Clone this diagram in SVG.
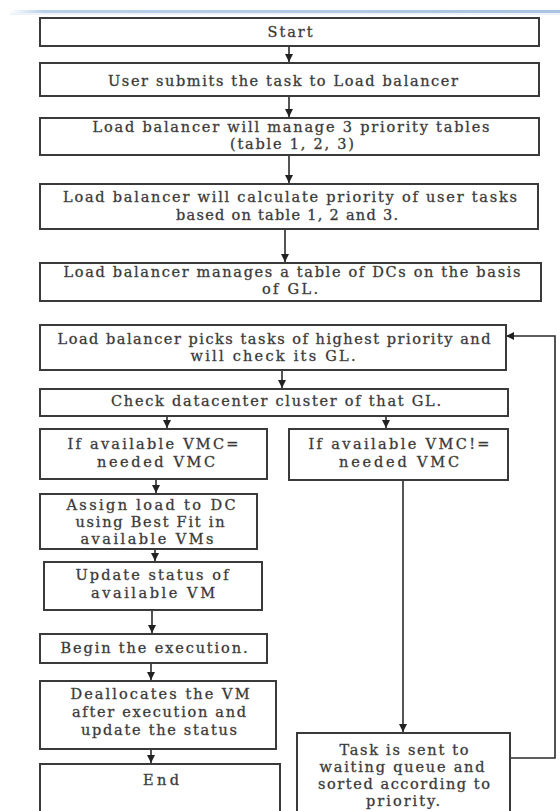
<svg xmlns="http://www.w3.org/2000/svg" width="560" height="811" viewBox="0 0 560 811">
<defs>
<linearGradient id="topline" x1="0" y1="0" x2="1" y2="0">
<stop offset="0" stop-color="#ffffff"/>
<stop offset="0.06" stop-color="#b9d0e8"/>
<stop offset="1" stop-color="#a9c3e0"/>
</linearGradient>
<marker id="ah" viewBox="0 0 10 10" refX="10" refY="5" markerWidth="8" markerHeight="8" markerUnits="userSpaceOnUse" orient="auto">
<path d="M0,0 L10,5 L0,10 z" fill="#222"/>
</marker>
<style>
.box{fill:#fff;stroke:#3a3a3a;stroke-width:2}
.t{font-family:"DejaVu Serif","Liberation Serif",serif;font-size:14.5px;fill:#2e2e2e;stroke:#555;stroke-width:0.35;text-anchor:middle}
.c{stroke:#2a2a2a;stroke-width:1.6;fill:none}
</style>
</defs>
<rect x="10" y="10" width="550" height="3" fill="url(#topline)"/>
<rect x="10" y="13" width="550" height="2" fill="#eef3f9"/>

<g id="connectors">
<line class="c" x1="289" y1="46" x2="289" y2="62" marker-end="url(#ah)"/>
<line class="c" x1="289" y1="96" x2="289" y2="117" marker-end="url(#ah)"/>
<line class="c" x1="289" y1="155" x2="289" y2="183" marker-end="url(#ah)"/>
<line class="c" x1="285" y1="229" x2="285" y2="262" marker-end="url(#ah)"/>
<line class="c" x1="282" y1="370" x2="282" y2="388" marker-end="url(#ah)"/>
<line class="c" x1="167" y1="416" x2="167" y2="428" marker-end="url(#ah)"/>
<line class="c" x1="386" y1="416" x2="386" y2="428" marker-end="url(#ah)"/>
<line class="c" x1="156" y1="479" x2="156" y2="493" marker-end="url(#ah)"/>
<line class="c" x1="155" y1="549" x2="155" y2="561" marker-end="url(#ah)"/>
<line class="c" x1="152" y1="610" x2="152" y2="633" marker-end="url(#ah)"/>
<line class="c" x1="151" y1="663" x2="151" y2="680" marker-end="url(#ah)"/>
<line class="c" x1="151" y1="749" x2="151" y2="763" marker-end="url(#ah)"/>
<line class="c" x1="403" y1="480" x2="403" y2="732" marker-end="url(#ah)"/>
<polyline class="c" points="510,758 555,758 555,336 506,336" marker-end="url(#ah)"/>
</g>

<g id="n-start">
<rect class="box" x="40" y="18" width="499" height="28"/>
<text class="t" x="290" y="37" textLength="45">Start</text>
</g>
<g id="n-submit">
<rect class="box" x="40" y="63" width="499" height="33"/>
<text class="t" x="283" y="86" textLength="350">User submits the task to Load balancer</text>
</g>
<g id="n-tables">
<rect class="box" x="40" y="118" width="499" height="37"/>
<text class="t" x="291" y="132" textLength="397">Load balancer will manage 3 priority tables</text>
<text class="t" x="292" y="149" textLength="124">(table 1, 2, 3)</text>
</g>
<g id="n-calc">
<rect class="box" x="40" y="184" width="498" height="45"/>
<text class="t" x="290" y="202" textLength="454">Load balancer will calculate priority of user tasks</text>
<text class="t" x="287" y="220" textLength="222">based on table 1, 2 and 3.</text>
</g>
<g id="n-dcs">
<rect class="box" x="40" y="263" width="501" height="38"/>
<text class="t" x="292" y="277" textLength="457">Load balancer manages a table of DCs on the basis</text>
<text class="t" x="290" y="294" textLength="56">of GL.</text>
</g>
<g id="n-pick">
<rect class="box" x="40" y="325" width="466" height="45"/>
<text class="t" x="274" y="344" textLength="433">Load balancer picks tasks of highest priority and</text>
<text class="t" x="273" y="361" textLength="165">will check its GL.</text>
</g>
<g id="n-check">
<rect class="box" x="40" y="389" width="468" height="27"/>
<text class="t" x="276" y="406" textLength="330">Check datacenter cluster of that GL.</text>
</g>
<g id="n-eq">
<rect class="box" x="40" y="429" width="227" height="50"/>
<text class="t" x="153" y="449" textLength="171">If available VMC=</text>
<text class="t" x="156" y="467" textLength="118">needed VMC</text>
</g>
<g id="n-neq">
<rect class="box" x="289" y="429" width="219" height="51"/>
<text class="t" x="399" y="449" textLength="181">If available VMC!=</text>
<text class="t" x="399" y="467" textLength="120">needed VMC</text>
</g>
<g id="n-assign">
<rect class="box" x="40" y="494" width="217" height="55"/>
<text class="t" x="151" y="510" textLength="169">Assign load to DC</text>
<text class="t" x="150" y="527" textLength="149">using Best Fit in</text>
<text class="t" x="147" y="544" textLength="133">available VMs</text>
</g>
<g id="n-update">
<rect class="box" x="44" y="562" width="218" height="48"/>
<text class="t" x="152" y="580" textLength="153">Update status of</text>
<text class="t" x="153" y="598" textLength="124">available VM</text>
</g>
<g id="n-begin">
<rect class="box" x="40" y="634" width="227" height="29"/>
<text class="t" x="154" y="653" textLength="187">Begin the execution.</text>
</g>
<g id="n-dealloc">
<rect class="box" x="40" y="681" width="236" height="68"/>
<text class="t" x="160" y="699" textLength="179">Deallocates the VM</text>
<text class="t" x="159" y="717" textLength="174">after execution and</text>
<text class="t" x="159" y="735" textLength="156">update the status</text>
</g>
<g id="n-end">
<rect class="box" x="40" y="764" width="240" height="60"/>
<text class="t" x="161" y="785" textLength="36">End</text>
</g>
<g id="n-queue">
<rect class="box" x="297" y="733" width="213" height="90"/>
<text class="t" x="404" y="755" textLength="129">Task is sent to</text>
<text class="t" x="402" y="772" textLength="165">waiting queue and</text>
<text class="t" x="404" y="789" textLength="172">sorted according to</text>
<text class="t" x="403" y="806" textLength="74">priority.</text>
</g>
</svg>
